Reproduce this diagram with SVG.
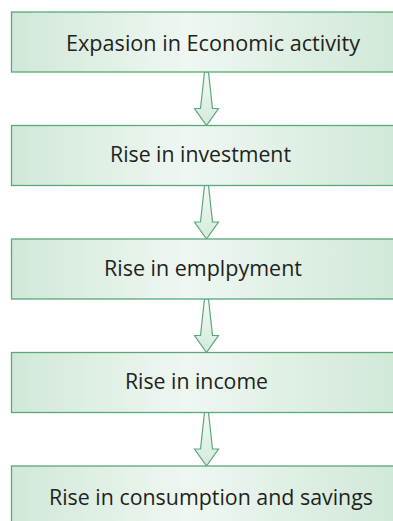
<svg xmlns="http://www.w3.org/2000/svg" width="393" height="521" viewBox="0 0 393 521">
<defs>
<linearGradient id="boxg" gradientUnits="userSpaceOnUse" x1="11" y1="0" x2="400" y2="0">
<stop offset="0" stop-color="#d0e8d8"/>
<stop offset="0.45" stop-color="#eef7f1"/>
<stop offset="1" stop-color="#d0e8d8"/>
</linearGradient>
<linearGradient id="arrg" x1="0" y1="0" x2="0" y2="1">
<stop offset="0" stop-color="#f4faf6"/>
<stop offset="1" stop-color="#d3eadb"/>
</linearGradient>
<style>
.box{fill:url(#boxg);stroke:#5aa877;stroke-width:1.3}
.arr{fill:url(#arrg);stroke:#5aa877;stroke-width:1.2;stroke-linejoin:miter}
.lbl{font-family:"Open Sans","Noto Sans",sans-serif;font-size:22px;fill:#231f20;text-anchor:middle}
</style>
</defs>
<rect width="393" height="521" fill="#ffffff"/>
<g id="connectors">
<polygon class="arr" points="204.5,72 208.5,72 212.5,108.5 218.5,108.5 206.5,125.5 194.5,108.5 200.5,108.5"/>
<polygon class="arr" points="204.5,185.5 208.5,185.5 212.5,222 218.5,222 206.5,239 194.5,222 200.5,222"/>
<polygon class="arr" points="204.5,299 208.5,299 212.5,335.5 218.5,335.5 206.5,352.5 194.5,335.5 200.5,335.5"/>
<polygon class="arr" points="204.5,412.5 208.5,412.5 212.5,449 218.5,449 206.5,466 194.5,449 200.5,449"/>
</g>
<g id="n1"><rect class="box" x="11.5" y="12" width="390" height="60"/><text class="lbl" x="213" y="50.5" textLength="294" lengthAdjust="spacingAndGlyphs">Expasion in Economic activity</text></g>
<g id="n2"><rect class="box" x="11.5" y="125.5" width="390" height="60"/><text class="lbl" x="200.5" y="162" textLength="181" lengthAdjust="spacingAndGlyphs">Rise in investment</text></g>
<g id="n3"><rect class="box" x="11.5" y="239" width="390" height="60"/><text class="lbl" x="203" y="275.7" textLength="198" lengthAdjust="spacingAndGlyphs">Rise in emplpyment</text></g>
<g id="n4"><rect class="box" x="11.5" y="352.5" width="390" height="60"/><text class="lbl" x="196.5" y="389" textLength="143" lengthAdjust="spacingAndGlyphs">Rise in income</text></g>
<g id="n5"><rect class="box" x="11.5" y="466" width="390" height="60"/><text class="lbl" x="211" y="505" textLength="324" lengthAdjust="spacingAndGlyphs">Rise in consumption and savings</text></g>
</svg>
